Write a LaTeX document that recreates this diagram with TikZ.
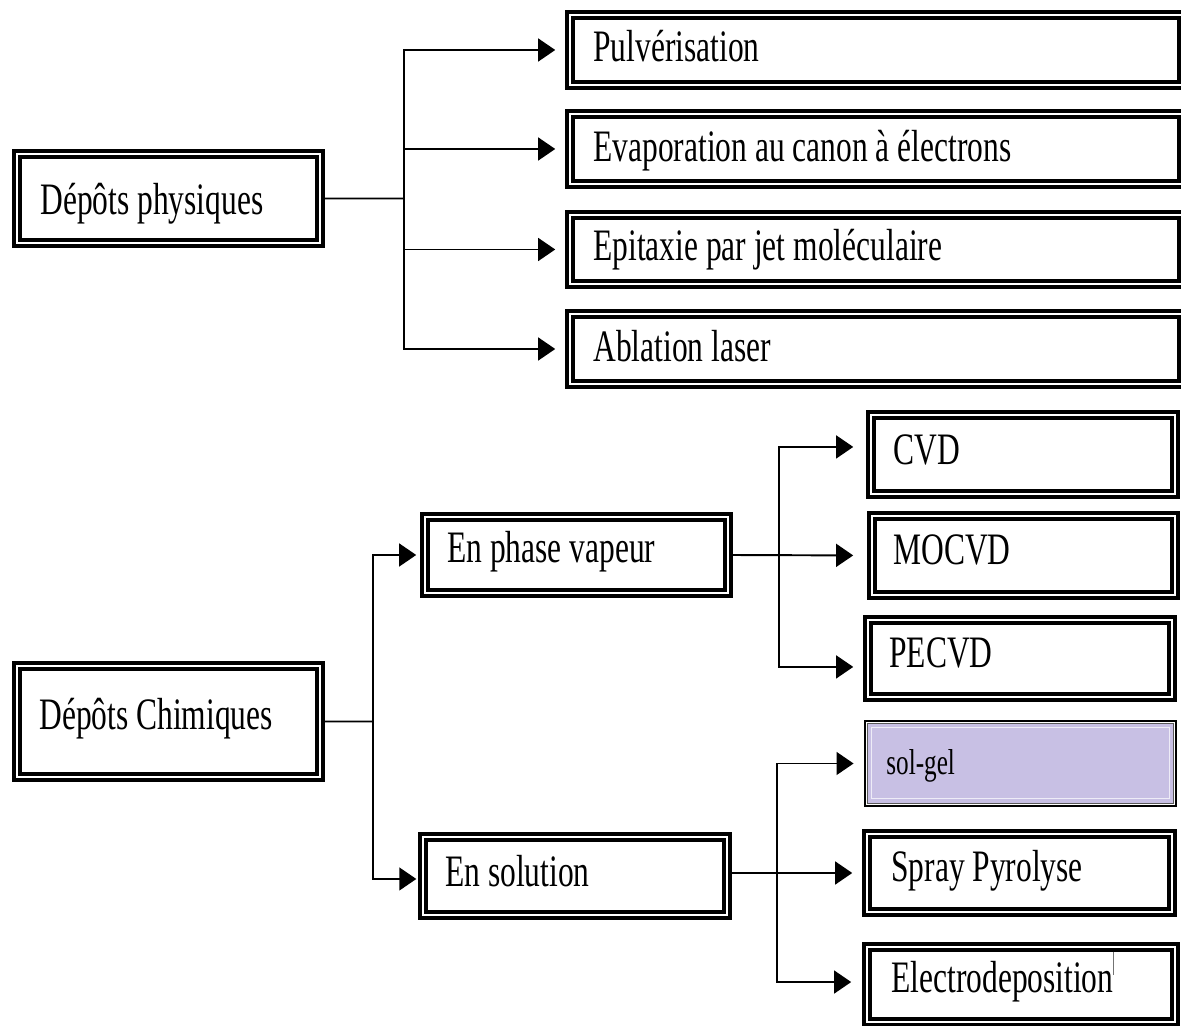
\documentclass[tikz,border=0pt]{standalone}
\usepackage{fontspec}
\setmainfont{Liberation Serif}[FakeStretch=0.70]
\usetikzlibrary{arrows.meta,fit}
\definecolor{lavender}{RGB}{200,192,228}
\begin{document}
\begin{tikzpicture}[x=0.02cm,y=-0.02cm,
  dbl/.style={draw=black, double=white, line width=2pt, double distance=1.6pt, inner sep=0pt},
  lbl/.style={anchor=base west, inner sep=0pt, font=\fontsize{25.6}{30}\selectfont},
  conn/.style={line width=1.1pt},
  arr/.style={conn, -{Triangle[length=9.7pt,width=13pt]}}]

\useasboundingbox[fill=white] (0,0) rectangle (1181,1026);

% physical deposition
\node[dbl, fit={(17,154) (320,243)}] (phys) {};
\node[dbl, fit={(570,15) (1182,85)}] (pulv) {};
\node[dbl, fit={(570,114) (1182,184)}] (evap) {};
\node[dbl, fit={(570,215) (1182,284)}] (epit) {};
\node[dbl, fit={(570,314) (1182,384)}] (abla) {};

\node[lbl] (tphys) at (40,215) {Dépôts physiques};
\node[lbl] (tpulv) at (593,62) {Pulvérisation};
\node[lbl] (tevap) at (593,162) {Evaporation au canon à électrons};
\node[lbl] (tepit) at (593,261) {Epitaxie par jet moléculaire};
\node[lbl] (tabla) at (593,362) {Ablation laser};

\coordinate (pj) at (404,198.5);
\draw[conn] (phys.east) -- (pj);
\draw[arr, shorten >=7.4pt] (pj) |- (pulv.west);
\draw[arr, shorten >=7.4pt] (pj) |- (abla.west);
\draw[arr, shorten >=7.4pt] (pj |- evap.west) -- (evap.west);
\draw[arr, shorten >=7.4pt] (pj |- epit.west) -- (epit.west);

% chemical deposition
\node[dbl, fit={(17,666) (320,777)}] (chim) {};
\node[dbl, fit={(425,517) (728,593)}] (vap) {};
\node[dbl, fit={(423,837) (727,915)}] (sol) {};
\node[dbl, fit={(871,415) (1175,494)}] (cvd) {};
\node[dbl, fit={(872,516) (1175,595)}] (mocvd) {};
\node[dbl, fit={(868,620) (1172,697)}] (pecvd) {};
\node[draw=black, line width=1.6pt, fill=white, inner sep=0pt, fit={(865,721) (1176,806)}] (solgel) {};
\draw[draw=black!65, line width=0.6pt, fill=lavender]
  ([shift={(4,4)}]solgel.north west) rectangle ([shift={(-4,-4)}]solgel.south east);
\draw[white!70!lavender, line width=0.6pt]
  ([shift={(8,8)}]solgel.north west) rectangle ([shift={(-8,-9)}]solgel.south east);
\node[dbl, fit={(867,834) (1172,912)}] (spray) {};
\node[dbl, fit={(867,947) (1175,1022)}] (electro) {};

\node[lbl] (tchim) at (39,730) {Dépôts Chimiques};
\node[lbl] (tvap) at (447,563) {En phase vapeur};
\node[lbl] (tsol) at (445,887) {En solution};
\node[lbl] (tcvd) at (893,465) {CVD};
\node[lbl] (tmocvd) at (893,565) {MOCVD};
\node[lbl] (tpecvd) at (889,668) {PECVD};
\node[lbl, font=\fontsize{20.5}{24}\selectfont] (tsolgel) at (886,775) {sol-gel};
\node[lbl] (tspray) at (891,882) {Spray Pyrolyse};
\node[lbl] (telectro) at (891,993) {Electrodeposition};
\draw[black!55, line width=0.5pt] (1113,952) -- (1113,975);

\coordinate (cj) at (373,721.5);
\draw[conn] (chim.east) -- (cj);
\draw[arr, shorten >=4pt] (cj) |- (vap.west);
\draw[arr, shorten >=2.8pt] (cj) |- ([yshift=-1.7pt]sol.west);

\coordinate (vj) at (779,555);
\draw[arr, shorten >=9.7pt] (vap.east) -- (mocvd.west);
\draw[arr, shorten >=9.1pt] (vj) |- ([yshift=4.3pt]cvd.west);
\draw[arr, shorten >=7.4pt] (vj) |- ([yshift=-4.8pt]pecvd.west);

\coordinate (sj) at (777,873);
\draw[arr, shorten >=7.4pt] ([yshift=1.7pt]sol.east) -- (spray.west);
\draw[arr, shorten >=5.7pt] (sj) |- (solgel.west);
\draw[arr, shorten >=8pt] (sj) |- ([yshift=1.4pt]electro.west);
\end{tikzpicture}
\end{document}
